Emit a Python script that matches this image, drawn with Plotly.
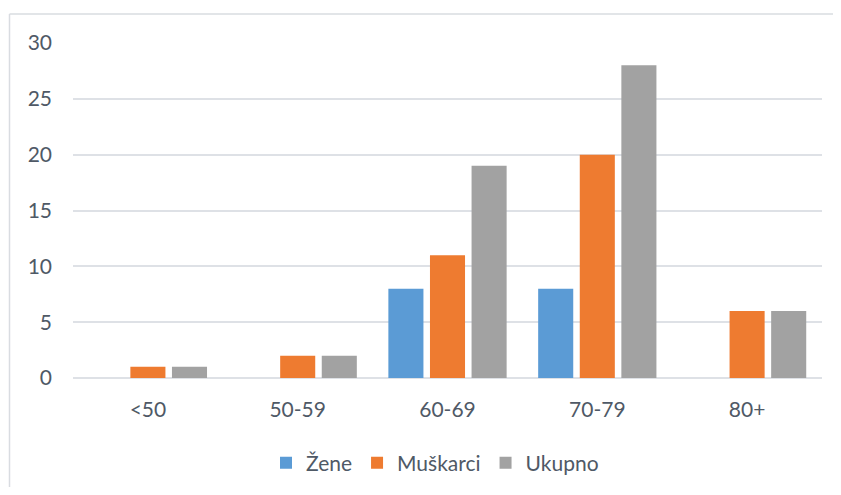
import plotly.graph_objects as go

categories = ["<50", "50-59", "60-69", "70-79", "80+"]
zene = [0, 0, 8, 8, 0]
muskarci = [1, 2, 11, 20, 6]
ukupno = [1, 2, 19, 28, 6]
series_names = ["Žene", "Muškarci", "Ukupno"]
y_ticks = [0, 5, 10, 15, 20, 25, 30]

colors = ["#5B9BD5", "#EE7B30", "#A2A2A2"]
FONT = "Lato"
TXT = "#4F5966"
FS = 21

fig = go.Figure()
for name, vals, c in zip(series_names, [zene, muskarci, ukupno], colors):
    fig.add_trace(go.Bar(x=categories, y=vals, name=name,
                         marker=dict(color=c, line=dict(width=0))))

# page offset of 8px (body margin)
OFF = 8
W, H = 841 - 2 * OFF, 495 - 2 * OFF
L, T = 73 - OFF, 43 - OFF
R = W - (822 - OFF)
B = H - (378 - OFF)
pw, ph = W - L - R, H - T - B

def px_x(x):
    return (x - OFF - L) / pw

def px_y(y):
    return (H - B - (y - OFF)) / ph

BORDER = "#D9DCE1"
fig.update_layout(
    width=W, height=H,
    margin=dict(l=L, r=R, t=T, b=B, autoexpand=False),
    paper_bgcolor="white", plot_bgcolor="white",
    barmode="group", bargap=0.167, bargroupgap=0.157,
    font=dict(family=FONT, size=FS, color=TXT),
    showlegend=True,
    legend=dict(orientation="h", x=px_x(435), xanchor="center",
                yref="container", y=(H - (463 - OFF)) / H, yanchor="middle",
                font=dict(family=FONT, size=FS, color=TXT),
                itemwidth=30, traceorder="normal"),
    xaxis=dict(showgrid=False, showline=False, zeroline=False,
               ticks="", ticklabelstandoff=17, automargin=False,
               tickfont=dict(family=FONT, size=FS, color=TXT)),
    yaxis=dict(range=[0, 30], tickvals=y_ticks, showgrid=True,
               gridcolor="#DEE1E6", gridwidth=1.5,
               zeroline=True, zerolinecolor="#DEE1E6", zerolinewidth=1.5,
               showline=False, ticks="", ticklabelstandoff=20, automargin=False,
               tickfont=dict(family=FONT, size=FS, color=TXT)),
    shapes=[
        dict(type="line", xref="paper", yref="paper",
             x0=px_x(9.5), x1=px_x(9.5), y0=px_y(600), y1=px_y(14),
             line=dict(color=BORDER, width=1.5), layer="below"),
        dict(type="line", xref="paper", yref="paper",
             x0=px_x(9.5), x1=px_x(900), y0=px_y(14), y1=px_y(14),
             line=dict(color=BORDER, width=1.5), layer="below"),
    ],
)

fig.write_html("out.html")
